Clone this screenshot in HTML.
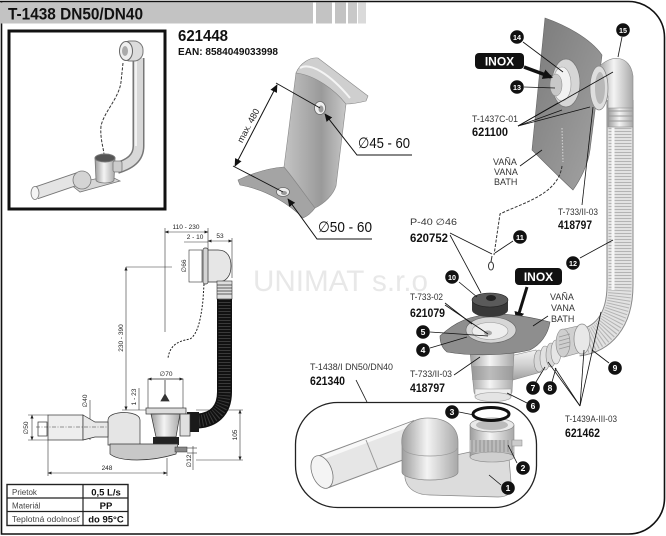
<!DOCTYPE html>
<html><head><meta charset="utf-8"><style>
html,body{margin:0;padding:0;background:#fff;}
svg{display:block;}
text{font-family:"Liberation Sans",sans-serif;}
</style></head><body>
<svg width="666" height="536" viewBox="0 0 666 536" xmlns="http://www.w3.org/2000/svg">
<defs>
<linearGradient id="met" x1="0" y1="0" x2="1" y2="0">
<stop offset="0" stop-color="#9c9c9c"/><stop offset="0.45" stop-color="#f4f4f4"/><stop offset="1" stop-color="#a8a8a8"/>
</linearGradient>
<linearGradient id="metv" x1="0" y1="0" x2="0" y2="1">
<stop offset="0" stop-color="#f2f2f2"/><stop offset="0.5" stop-color="#d0d0d0"/><stop offset="1" stop-color="#a0a0a0"/>
</linearGradient>
<linearGradient id="pan" x1="0" y1="0" x2="1" y2="0">
<stop offset="0" stop-color="#c4c4c4"/><stop offset="0.6" stop-color="#9a9a9a"/><stop offset="1" stop-color="#c8c8c8"/>
</linearGradient>
<linearGradient id="wall" x1="0" y1="0" x2="1" y2="1">
<stop offset="0" stop-color="#7a7a7a"/><stop offset="1" stop-color="#a4a4a4"/>
</linearGradient>
<marker id="ah" viewBox="0 0 10 10" refX="9" refY="5" markerWidth="8" markerHeight="8" markerUnits="userSpaceOnUse" orient="auto-start-reverse"><path d="M0,0.5 L10,5 L0,9.5 Z" fill="#111"/></marker>
<marker id="ahs" viewBox="0 0 10 10" refX="9" refY="5" markerWidth="4" markerHeight="4" markerUnits="userSpaceOnUse" orient="auto-start-reverse"><path d="M0,1 L10,5 L0,9 Z" fill="#222"/></marker>
<marker id="ahb" viewBox="0 0 10 10" refX="8" refY="5" markerWidth="10" markerHeight="10" markerUnits="userSpaceOnUse" orient="auto"><path d="M0,0 L10,5 L0,10 Z" fill="#111"/></marker>
</defs>

<!-- watermark -->
<text x="253" y="291" font-size="30" fill="#e8e8e8" textLength="175" lengthAdjust="spacingAndGlyphs">UNIMAT s.r.o</text>

<!-- frame -->
<path d="M0,1.5 H628 A36,36 0 0 1 664.5,37.5 V498 A36,36 0 0 1 628.5,534 H1.5 V1.5" fill="none" stroke="#111" stroke-width="1.6"/>
<rect x="0" y="2.5" width="313" height="21" fill="#c3c3c3"/>
<rect x="316" y="2.5" width="16" height="21" fill="#c3c3c3"/>
<rect x="335" y="2.5" width="11" height="21" fill="#c3c3c3"/>
<rect x="348" y="2.5" width="9" height="21" fill="#c8c8c8"/>
<rect x="358" y="2.5" width="8" height="21" fill="#dadada"/>
<text x="8" y="19.5" font-size="17" font-weight="bold" fill="#111" textLength="135" lengthAdjust="spacingAndGlyphs">T-1438 DN50/DN40</text>

<!-- inset -->
<rect x="9" y="31" width="156" height="178" fill="#fff" stroke="#111" stroke-width="3"/>
<path d="M138.5,58 L138.5,146 C138.5,158 130,164 117,168" fill="none" stroke="#777" stroke-width="12"/>
<path d="M138.5,58 L138.5,146 C138.5,158 130,164 117,168" fill="none" stroke="#d8d8d8" stroke-width="9"/>
<path d="M136,60 L136,146" stroke="#f2f2f2" stroke-width="2"/>
<rect x="121" y="41" width="22" height="20" rx="9" fill="#dcdcdc" stroke="#777"/>
<ellipse cx="126" cy="51" rx="6.5" ry="9.5" fill="#eee" stroke="#666"/>
<ellipse cx="125" cy="51" rx="3" ry="5" fill="#aaa"/>
<path d="M123,63 L121,82 C119,98 104,112 101,126 C100,138 103,146 104,154" fill="none" stroke="#333" stroke-width="1" stroke-dasharray="3 1.5"/>
<path d="M70,184 L110,176 L120,181 L80,192 Z" fill="#d6d6d6" stroke="#777" stroke-width="0.8"/>
<path d="M36,193 L80,178" stroke="#777" stroke-width="13"/>
<path d="M36,193 L80,178" stroke="#e4e4e4" stroke-width="11"/>
<ellipse cx="35" cy="193" rx="4" ry="6.5" fill="#f4f4f4" stroke="#777" stroke-width="0.8"/>
<ellipse cx="82" cy="180" rx="9" ry="9" fill="#d4d4d4" stroke="#777" stroke-width="0.8"/>
<path d="M95,158 L96,180 A9,3 0 0 0 114,180 L115,158 Z" fill="url(#met)" stroke="#777" stroke-width="0.8"/>
<ellipse cx="105" cy="158" rx="10" ry="4" fill="#555" stroke="#777"/>
<rect x="113" y="161" width="9" height="11" rx="2" fill="#ccc" stroke="#777" stroke-width="0.8"/>

<!-- 621448 -->
<text x="178" y="41" font-size="16" font-weight="bold" fill="#111" textLength="50" lengthAdjust="spacingAndGlyphs">621448</text>
<text x="178" y="55" font-size="10" font-weight="bold" fill="#111" textLength="100" lengthAdjust="spacingAndGlyphs">EAN: 8584049033998</text>

<!-- panel -->
<path d="M238,180 C255,172 270,168 284,167 C295,180 305,195 315,208 C312,212 308,216 303,218 C290,205 268,190 240,185 Z" fill="#a4a4a4" stroke="#777" stroke-width="0.6"/>
<path d="M296,73 C308,70 332,86 346,104 L336,186 C333,195 325,203 315,208 C305,195 295,180 284,167 Z" fill="url(#pan)" stroke="#888" stroke-width="0.6"/>
<path d="M296,73 C300,63 310,57 318,58 L368,96 L366,101 C358,103 352,104 346,104 C335,90 315,75 296,73 Z" fill="#cfcfcf" stroke="#888" stroke-width="0.6"/>
<path d="M300,68 C310,62 330,74 350,98" fill="none" stroke="#f4f4f4" stroke-width="2"/>
<ellipse cx="320" cy="108" rx="5.5" ry="6.5" fill="#eee" stroke="#666" stroke-width="0.8"/>
<ellipse cx="321" cy="109" rx="2.5" ry="3.5" fill="#999"/>
<ellipse cx="283" cy="192" rx="6.5" ry="4.5" fill="#eee" stroke="#666" stroke-width="0.8"/>
<ellipse cx="284" cy="193" rx="3" ry="2" fill="#999"/>
<line x1="276" y1="83" x2="320" y2="108" stroke="#111" stroke-width="0.9"/>
<line x1="233" y1="166" x2="283" y2="192" stroke="#111" stroke-width="0.9"/>
<line x1="277" y1="85" x2="235" y2="166" stroke="#111" stroke-width="1" marker-start="url(#ah)" marker-end="url(#ah)"/>
<text transform="translate(251,127) rotate(-62)" font-size="9" fill="#222" text-anchor="middle">max. 480</text>
<polyline points="412,155 357,155 325,114" fill="none" stroke="#111" stroke-width="1" marker-end="url(#ah)"/>
<text x="358" y="148" font-size="15" fill="#111" textLength="52" lengthAdjust="spacingAndGlyphs">∅45 - 60</text>
<polyline points="372,239 317,239 288,199" fill="none" stroke="#111" stroke-width="1" marker-end="url(#ah)"/>
<text x="318" y="232" font-size="15" fill="#111" textLength="54" lengthAdjust="spacingAndGlyphs">∅50 - 60</text>

<!-- technical drawing -->
<g stroke="#333" stroke-width="0.6" fill="none">
<line x1="165" y1="228" x2="165" y2="332"/>
<line x1="165" y1="232" x2="208" y2="232" marker-start="url(#ahs)" marker-end="url(#ahs)"/>
<line x1="208" y1="228" x2="208" y2="252"/>
<line x1="184" y1="242" x2="208" y2="242"/>
<line x1="208" y1="241" x2="232" y2="241" marker-start="url(#ahs)" marker-end="url(#ahs)"/>
<line x1="232" y1="238" x2="232" y2="278"/>
<rect x="189" y="250" width="13" height="32"/>
<line x1="126" y1="267" x2="126" y2="410" marker-start="url(#ahs)" marker-end="url(#ahs)"/>
<line x1="126" y1="267" x2="172" y2="267"/>
<line x1="139" y1="388" x2="139" y2="410"/>
<line x1="122" y1="410" x2="148" y2="410"/>
<rect x="148" y="379" width="35" height="30"/>
<line x1="148" y1="379" x2="183" y2="379" marker-start="url(#ahs)" marker-end="url(#ahs)"/>
<line x1="32" y1="415" x2="32" y2="440" marker-start="url(#ahs)" marker-end="url(#ahs)"/>
<line x1="28" y1="415" x2="48" y2="415"/>
<line x1="28" y1="440" x2="48" y2="440"/>
<line x1="90" y1="400" x2="90" y2="440"/>
<line x1="48" y1="440" x2="48" y2="476"/>
<line x1="167" y1="458" x2="167" y2="476"/>
<line x1="48" y1="473" x2="167" y2="473" marker-start="url(#ahs)" marker-end="url(#ahs)"/>
<line x1="193" y1="446" x2="193" y2="470"/>
<line x1="187" y1="448" x2="197" y2="448"/>
<line x1="187" y1="453" x2="197" y2="453"/>
<line x1="196" y1="410" x2="243" y2="410"/>
<line x1="196" y1="460" x2="243" y2="460"/>
<line x1="240" y1="410" x2="240" y2="460" marker-start="url(#ahs)" marker-end="url(#ahs)"/>
</g>
<g font-size="6.5" fill="#222" text-anchor="middle">
<text x="186" y="229">110 - 230</text>
<text x="195" y="239">2 - 10</text>
<text x="220" y="238">53</text>
<text transform="translate(186,266) rotate(-90)">∅66</text>
<text transform="translate(123,338) rotate(-90)">230 - 390</text>
<text transform="translate(136,397) rotate(-90)">1 - 23</text>
<text x="166" y="376">∅70</text>
<text transform="translate(28,428) rotate(-90)">∅50</text>
<text transform="translate(87,401) rotate(-90)">∅40</text>
<text x="107" y="470">248</text>
<text transform="translate(191,461) rotate(-90)">∅12</text>
<text transform="translate(237,435) rotate(-90)">105</text>
</g>
<path d="M206,250 L218,250 C228,250 231,258 231,266 C231,276 226,282 218,282 L206,282 Z" fill="#e6e6e6" stroke="#333" stroke-width="0.7"/>
<rect x="203" y="248" width="5" height="36" rx="2" fill="#d4d4d4" stroke="#333" stroke-width="0.7"/>
<rect x="217" y="281" width="15" height="18" fill="#ddd" stroke="#333" stroke-width="0.6"/>
<path d="M217,285 H232 M217,288 H232 M217,291 H232 M217,294 H232" stroke="#333" stroke-width="0.7"/>
<path d="M224.5,299 L224.5,392 C224.5,412 212,420 198,421" fill="none" stroke="#111" stroke-width="15"/>
<path d="M224.5,299 L224.5,392 C224.5,412 212,420 198,421" fill="none" stroke="#3a3a3a" stroke-width="12" stroke-dasharray="1 2"/>
<rect x="187" y="412" width="12" height="20" fill="#1a1a1a"/>
<path d="M204,284 L203,300 C201,318 198,334 190,339 C178,341 170,345 168,358" fill="none" stroke="#222" stroke-width="1" stroke-dasharray="2 1.5"/>
<path d="M165,380 L165,396 M161,401 L165,394 L169,401 Z" fill="#333" stroke="#333" stroke-width="0.8"/>
<rect x="146" y="408" width="40" height="6" fill="#ddd" stroke="#333" stroke-width="0.7"/>
<path d="M151,414 L180,414 L176,437 L156,437 Z" fill="url(#met)" stroke="#333" stroke-width="0.7"/>
<rect x="153" y="437" width="26" height="8" fill="#222"/>
<rect x="180" y="414" width="10" height="22" fill="#e0e0e0" stroke="#333" stroke-width="0.7"/>
<path d="M108,420 C108,410 140,410 140,420 L140,445 L108,445 Z" fill="#e5e5e5" stroke="#333" stroke-width="0.7"/>
<path d="M110,444 L178,444 L176,454 C150,462 120,462 110,454 Z" fill="#c8c8c8" stroke="#333" stroke-width="0.7"/>
<rect x="175" y="447" width="12" height="5" fill="#888" stroke="#333" stroke-width="0.5"/>
<rect x="48" y="415" width="35" height="25" fill="#eee" stroke="#333" stroke-width="0.7"/>
<path d="M83,415 L95,422 L108,422 L108,437 L95,437 L83,440 Z" fill="#e8e8e8" stroke="#333" stroke-width="0.7"/>
<rect x="38" y="422" width="9" height="14" fill="none" stroke="#333" stroke-width="0.7"/>
<line x1="36" y1="427" x2="108" y2="427" stroke="#333" stroke-width="0.6" stroke-dasharray="4 1.5 1 1.5"/>

<!-- table -->
<rect x="7" y="484.5" width="121" height="41" fill="#fff" stroke="#222" stroke-width="1.4"/>
<line x1="7" y1="498" x2="128" y2="498" stroke="#222" stroke-width="1.2"/>
<line x1="7" y1="511.5" x2="128" y2="511.5" stroke="#222" stroke-width="1.2"/>
<line x1="83" y1="484.5" x2="83" y2="525.5" stroke="#222" stroke-width="1.2"/>
<g font-size="8" fill="#444">
<text x="12" y="495">Prietok</text>
<text x="12" y="508.5">Materiál</text>
<text x="12" y="522" textLength="68" lengthAdjust="spacingAndGlyphs">Teplotná odolnosť</text>
</g>
<g font-size="9.5" font-weight="bold" fill="#111" text-anchor="middle">
<text x="106" y="495.5">0,5 L/s</text>
<text x="106" y="509">PP</text>
<text x="106" y="522.5">do 95°C</text>
</g>

<!-- right exploded view: upper -->
<path d="M545,18 C565,25 590,38 602,55 L590,150 C588,165 580,180 573,190 C560,178 545,163 532,150 Z" fill="url(#wall)" stroke="#666" stroke-width="0.6"/>
<path d="M562,128 L563,162" stroke="#ccc" stroke-width="1.2" stroke-dasharray="1.5 1.5"/>
<!-- hose -->
<path d="M620,100 L620,285 C620,322 602,340 578,343" fill="none" stroke="#8a8a8a" stroke-width="27"/>
<path d="M620,100 L620,285 C620,322 602,340 578,343" fill="none" stroke="#e2e2e2" stroke-width="25"/>
<path d="M620,128 L620,285 C620,322 602,340 578,343" fill="none" stroke="#b4b4b4" stroke-width="23" stroke-dasharray="1 2"/>
<path d="M613,100 L613,290" stroke="#f6f6f6" stroke-width="3"/>
<rect x="608" y="105" width="25" height="22" fill="url(#met)" stroke="#888" stroke-width="0.6"/>
<path d="M608,111 H633 M608,116 H633 M608,121 H633" stroke="#999" stroke-width="1"/>
<path d="M598,68 C610,54 630,54 633,76 L633,108 L608,108 L608,96 C605,92 601,90 598,90 Z" fill="url(#met)" stroke="#888" stroke-width="0.6"/>
<ellipse cx="599" cy="88" rx="9" ry="22" fill="#dedede" stroke="#888" stroke-width="0.7"/>
<ellipse cx="600" cy="88" rx="5" ry="16" fill="#b8b8b8"/>
<ellipse cx="566" cy="83" rx="14" ry="24" fill="#d6d6d6" stroke="#777" stroke-width="0.7"/>
<ellipse cx="562" cy="84" rx="9" ry="17" fill="#f2f2f2" stroke="#999" stroke-width="0.6"/>
<ellipse cx="556" cy="85" rx="6" ry="11" fill="#c8c8c8" stroke="#888" stroke-width="0.5"/>
<!-- chain -->
<path d="M562,166 C558,195 522,203 500,214 L494,255" fill="none" stroke="#333" stroke-width="1" stroke-dasharray="3 1.5"/>
<path d="M492,256 L491,262" stroke="#333" stroke-width="1"/>
<ellipse cx="491" cy="266" rx="2.5" ry="4" fill="none" stroke="#333" stroke-width="1"/>

<!-- INOX badges -->
<rect x="475" y="53" width="49" height="16" rx="4" fill="#111"/>
<text x="499.5" y="65.5" font-size="12" font-weight="bold" fill="#fff" text-anchor="middle">INOX</text>
<line x1="524" y1="67" x2="551" y2="77" stroke="#111" stroke-width="3.5" marker-end="url(#ahb)"/>
<rect x="515" y="268" width="47" height="17" rx="4" fill="#111"/>
<text x="538.5" y="281" font-size="12" font-weight="bold" fill="#fff" text-anchor="middle">INOX</text>
<line x1="527" y1="287" x2="517" y2="320" stroke="#111" stroke-width="3" marker-end="url(#ahb)"/>

<!-- drain middle -->
<path d="M510,356 L536,350 L541,372 L513,380 Z" fill="url(#metv)" stroke="#888" stroke-width="0.6"/>
<ellipse cx="539" cy="361" rx="5" ry="11" fill="#d8d8d8" stroke="#888" stroke-width="0.6"/>
<ellipse cx="545" cy="358" rx="5" ry="12" fill="#e2e2e2" stroke="#888" stroke-width="0.6"/>
<ellipse cx="551" cy="355" rx="5" ry="12" fill="#d8d8d8" stroke="#888" stroke-width="0.6"/>
<ellipse cx="556" cy="352" rx="5" ry="12" fill="#e6e6e6" stroke="#888" stroke-width="0.6"/>
<path d="M560,330 L578,326 L582,352 L564,357 Z" fill="#d0d0d0" stroke="#888" stroke-width="0.6"/>
<ellipse cx="563" cy="343" rx="7" ry="14" fill="#cfcfcf" stroke="#888" stroke-width="0.6"/>
<path d="M559,337 L570,334 M559,341 L570,338 M559,345 L570,342 M559,349 L570,346" stroke="#999" stroke-width="0.8"/>
<ellipse cx="582" cy="339" rx="8" ry="15" fill="#e8e8e8" stroke="#888" stroke-width="0.7"/>
<path d="M470,352 L474,392 A19,6 0 0 0 512,392 L514,352 Z" fill="url(#met)" stroke="#888" stroke-width="0.6"/>
<rect x="472" y="366" width="41" height="14" fill="#8e8e8e" opacity="0.55"/>
<rect x="475" y="389" width="36" height="8" fill="#eee" stroke="#999" stroke-width="0.5"/>
<ellipse cx="493" cy="397" rx="18" ry="4.5" fill="#e4e4e4" stroke="#999" stroke-width="0.6"/>
<path d="M440,336 C455,322 470,315 495,314 C515,314 535,318 550,322 C548,335 540,345 530,350 C505,356 470,356 447,352 C442,348 440,342 440,336 Z" fill="#8e8e8e" stroke="#555" stroke-width="0.6"/>
<ellipse cx="491" cy="330" rx="25" ry="13" fill="#d6d6d6" stroke="#666" stroke-width="0.6"/>
<ellipse cx="490" cy="331" rx="18" ry="8.5" fill="#eee" stroke="#999" stroke-width="0.6"/>
<ellipse cx="488" cy="333" rx="4" ry="2.5" fill="#aaa"/>
<path d="M472,300 L472,310 A18,7 0 0 0 508,310 L508,300 Z" fill="#383838"/>
<ellipse cx="490" cy="300" rx="18" ry="7" fill="#5a5a5a" stroke="#222" stroke-width="0.6"/>
<ellipse cx="491" cy="298" rx="5" ry="3" fill="#222"/>

<!-- lower enclosure -->
<rect x="295.5" y="402.5" width="241" height="105" rx="42" fill="none" stroke="#222" stroke-width="1.3"/>
<path d="M405,466 L405,478 C407,490 418,495 430,495 L498,497 C510,497 514,490 511,482 L508,446 L470,452 Z" fill="#dcdcdc" stroke="#888" stroke-width="0.7"/>
<path d="M323,472 L420,436" stroke="#8a8a8a" stroke-width="34"/>
<path d="M323,472 L420,436" stroke="#e6e6e6" stroke-width="32"/>
<path d="M316,460 L414,423" stroke="#f8f8f8" stroke-width="4"/>
<path d="M366,440 L378,470" stroke="#999" stroke-width="1"/>
<ellipse cx="322" cy="472" rx="10" ry="17" transform="rotate(-20 322 472)" fill="#f4f4f4" stroke="#777" stroke-width="0.8"/>
<path d="M402,446 C400,430 410,418 428,418 C448,418 458,428 458,442 L458,472 A28,8 0 0 1 402,472 Z" fill="url(#met)" stroke="#888" stroke-width="0.7"/>
<path d="M403,448 A27,8 0 0 0 457,448" fill="none" stroke="#999" stroke-width="0.7"/>
<rect x="470" y="425" width="44" height="32" fill="url(#met)" stroke="#888" stroke-width="0.6"/>
<rect x="470" y="440" width="44" height="12" fill="#bbb" stroke-width="0"/>
<path d="M472,440 V452 M476,440 V452 M480,440 V452 M484,440 V452 M488,440 V452 M492,440 V452 M496,440 V452 M500,440 V452 M504,440 V452 M508,440 V452 M512,440 V452" stroke="#888" stroke-width="0.8"/>
<ellipse cx="492" cy="457" rx="22" ry="5" fill="#cfcfcf" stroke="#888" stroke-width="0.6"/>
<ellipse cx="492" cy="425" rx="22" ry="7" fill="#e9e9e9" stroke="#888" stroke-width="0.7"/>
<ellipse cx="492" cy="425" rx="16" ry="5" fill="#bbb"/>
<rect x="512" y="440" width="10" height="6" fill="#ccc" stroke="#888" stroke-width="0.5"/>
<ellipse cx="491" cy="414" rx="18" ry="6.5" fill="none" stroke="#111" stroke-width="3"/>

<!-- leaders -->
<g stroke="#111" stroke-width="0.8" fill="none">
<line x1="501" y1="485" x2="489" y2="475"/>
<line x1="517" y1="463" x2="508" y2="445"/>
<line x1="459" y1="412" x2="474" y2="415"/>
<line x1="430" y1="348" x2="467" y2="337"/>
<line x1="430" y1="332" x2="488" y2="336"/>
<line x1="527" y1="403" x2="507" y2="393"/>
<line x1="536" y1="382" x2="545" y2="367"/>
<line x1="552" y1="382" x2="556" y2="368"/>
<line x1="609" y1="363" x2="592" y2="350"/>
<line x1="459" y1="282" x2="477" y2="297"/>
<line x1="513" y1="241" x2="495" y2="253"/>
<line x1="580" y1="258" x2="613" y2="240"/>
<line x1="524" y1="87" x2="555" y2="88"/>
<line x1="523" y1="42" x2="563" y2="72"/>
<line x1="622" y1="37" x2="618" y2="57"/>
<line x1="518" y1="126" x2="558" y2="103"/>
<line x1="518" y1="126" x2="562" y2="110"/>
<line x1="518" y1="126" x2="590" y2="107"/>
<line x1="518" y1="126" x2="613" y2="72"/>
<line x1="582" y1="205" x2="593" y2="107"/>
<line x1="520" y1="166" x2="542" y2="150"/>
<line x1="450" y1="233" x2="492" y2="254"/>
<line x1="450" y1="235" x2="481" y2="293"/>
<line x1="445" y1="303" x2="472" y2="324"/>
<line x1="445" y1="305" x2="488" y2="334"/>
<line x1="454" y1="375" x2="480" y2="357"/>
<line x1="548" y1="316" x2="533" y2="326"/>
<line x1="356" y1="380" x2="367" y2="402"/>
<line x1="580" y1="406" x2="548" y2="362"/>
<line x1="580" y1="406" x2="555" y2="368"/>
<line x1="580" y1="406" x2="584" y2="350"/>
<line x1="580" y1="406" x2="601" y2="312"/>
</g>

<!-- callouts -->
<g fill="#111">
<circle cx="508" cy="488" r="6.8"/><circle cx="523" cy="468" r="6.8"/><circle cx="452" cy="412" r="6.8"/>
<circle cx="423" cy="350" r="6.8"/><circle cx="423" cy="332" r="6.8"/><circle cx="533" cy="406" r="6.8"/>
<circle cx="533" cy="388" r="6.8"/><circle cx="550" cy="388" r="6.8"/><circle cx="615" cy="368" r="6.8"/>
<circle cx="452" cy="277" r="6.8"/><circle cx="520" cy="237" r="6.8"/><circle cx="573" cy="263" r="6.8"/>
<circle cx="517" cy="87" r="6.8"/><circle cx="517" cy="37" r="6.8"/><circle cx="623" cy="30" r="6.8"/>
</g>
<g fill="#fff" font-size="8.5" font-weight="bold" text-anchor="middle">
<text x="508" y="491">1</text><text x="523" y="471">2</text><text x="452" y="415">3</text>
<text x="423" y="353">4</text><text x="423" y="335">5</text><text x="533" y="409">6</text>
<text x="533" y="391">7</text><text x="550" y="391">8</text><text x="615" y="371">9</text>
</g>
<g fill="#fff" font-size="7.5" font-weight="bold">
<text x="448" y="280" textLength="8" lengthAdjust="spacingAndGlyphs">10</text>
<text x="516" y="240" textLength="8" lengthAdjust="spacingAndGlyphs">11</text>
<text x="569" y="266" textLength="8" lengthAdjust="spacingAndGlyphs">12</text>
<text x="513" y="90" textLength="8" lengthAdjust="spacingAndGlyphs">13</text>
<text x="513" y="40" textLength="8" lengthAdjust="spacingAndGlyphs">14</text>
<text x="619" y="33" textLength="8" lengthAdjust="spacingAndGlyphs">15</text>
</g>

<!-- labels -->
<g font-size="9" fill="#333">
<text x="472" y="122" textLength="46" lengthAdjust="spacingAndGlyphs">T-1437C-01</text>
<text x="493" y="165">VAÑA</text>
<text x="494" y="175">VANA</text>
<text x="494" y="185">BATH</text>
<text x="558" y="215" textLength="40" lengthAdjust="spacingAndGlyphs">T-733/II-03</text>
<text x="410" y="225" textLength="47" lengthAdjust="spacingAndGlyphs">P-40 ∅46</text>
<text x="410" y="300" textLength="33" lengthAdjust="spacingAndGlyphs">T-733-02</text>
<text x="410" y="377" textLength="42" lengthAdjust="spacingAndGlyphs">T-733/II-03</text>
<text x="550" y="300">VAÑA</text>
<text x="551" y="311">VANA</text>
<text x="551" y="322">BATH</text>
<text x="310" y="370" textLength="83" lengthAdjust="spacingAndGlyphs">T-1438/I DN50/DN40</text>
<text x="565" y="422" textLength="52" lengthAdjust="spacingAndGlyphs">T-1439A-III-03</text>
</g>
<g font-size="12" font-weight="bold" fill="#111">
<text x="472" y="136" textLength="36" lengthAdjust="spacingAndGlyphs">621100</text>
<text x="558" y="229" textLength="34" lengthAdjust="spacingAndGlyphs">418797</text>
<text x="410" y="242" textLength="38" lengthAdjust="spacingAndGlyphs">620752</text>
<text x="410" y="317" textLength="35" lengthAdjust="spacingAndGlyphs">621079</text>
<text x="410" y="392" textLength="35" lengthAdjust="spacingAndGlyphs">418797</text>
<text x="310" y="385" textLength="35" lengthAdjust="spacingAndGlyphs">621340</text>
<text x="565" y="437" textLength="35" lengthAdjust="spacingAndGlyphs">621462</text>
</g>
</svg>
</body></html>
